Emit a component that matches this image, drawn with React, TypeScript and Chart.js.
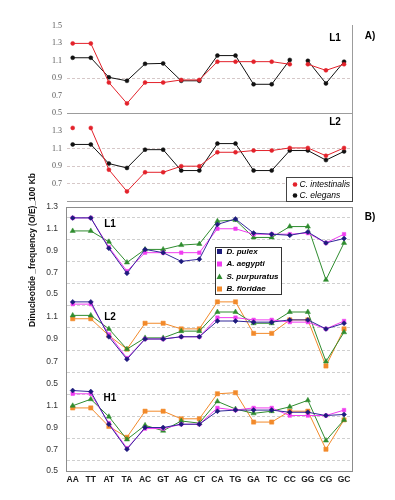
import React, { useEffect, useRef } from 'react';
import { Chart, registerables } from 'chart.js';

Chart.register(...registerables);

// ---------- DATA ----------
const categories = ['AA', 'TT', 'AT', 'TA', 'AC', 'GT', 'AG', 'CT', 'CA', 'TG', 'GA', 'TC', 'CC', 'GG', 'CG', 'GC'];

// Panel A – L1
const aL1Intestinalis = [1.30, 1.30, 0.85, 0.61, 0.85, 0.85, 0.88, 0.88, 1.09, 1.09, 1.09, 1.09, 1.06, 1.06, 0.99, 1.06];
const aL1Elegans = [1.135, 1.135, 0.91, 0.87, 1.065, 1.07, 0.87, 0.87, 1.16, 1.16, 0.83, 0.83, 1.11, 1.10, 0.84, 1.09];
// Panel A – L2
const aL2Intestinalis = [1.34, 1.34, 0.86, 0.61, 0.83, 0.83, 0.90, 0.90, 1.06, 1.06, 1.08, 1.08, 1.11, 1.11, 1.02, 1.11];
const aL2Elegans = [1.15, 1.15, 0.93, 0.88, 1.09, 1.09, 0.85, 0.85, 1.16, 1.16, 0.85, 0.85, 1.08, 1.08, 0.97, 1.07];

// Panel B – L1
const bL1Pulex = [1.20, 1.20, 0.92, 0.69, 0.91, 0.88, 0.80, 0.82, 1.14, 1.19, 1.06, 1.05, 1.04, 1.07, 0.97, 1.01];
const bL1Aegypti = [1.20, 1.20, 0.93, 0.71, 0.88, 0.88, 0.88, 0.88, 1.10, 1.10, 1.05, 1.05, 1.05, 1.06, 0.97, 1.05];
const bL1Purpuratus = [1.08, 1.08, 0.98, 0.79, 0.91, 0.91, 0.95, 0.96, 1.17, 1.18, 1.02, 1.02, 1.12, 1.12, 0.63, 0.97];
// Panel B – L2
const bL2Pulex = [1.23, 1.23, 0.92, 0.72, 0.90, 0.90, 0.92, 0.92, 1.06, 1.06, 1.05, 1.05, 1.07, 1.07, 0.99, 1.04];
const bL2Aegypti = [1.21, 1.21, 0.94, 0.73, 0.90, 0.90, 0.92, 0.92, 1.09, 1.09, 1.07, 1.07, 1.05, 1.05, 0.99, 1.06];
const bL2Purpuratus = [1.11, 1.11, 0.99, 0.81, 0.91, 0.91, 0.97, 0.97, 1.14, 1.14, 1.04, 1.04, 1.14, 1.14, 0.70, 0.96];
const bL2Floridae = [1.08, 1.08, 0.93, 0.81, 1.04, 1.04, 0.99, 0.99, 1.23, 1.23, 0.95, 0.95, 1.07, 1.07, 0.66, 0.99];
// Panel B – H1
const bH1Pulex = [1.24, 1.23, 0.93, 0.70, 0.90, 0.90, 0.93, 0.93, 1.05, 1.06, 1.06, 1.06, 1.04, 1.04, 1.01, 1.02];
const bH1Aegypti = [1.21, 1.21, 0.94, 0.71, 0.89, 0.89, 0.93, 0.93, 1.08, 1.06, 1.08, 1.08, 1.01, 1.01, 1.01, 1.06];
const bH1Purpuratus = [1.10, 1.16, 1.00, 0.79, 0.92, 0.87, 0.96, 0.94, 1.14, 1.07, 1.03, 1.05, 1.09, 1.15, 0.78, 0.97];
const bH1Floridae = [1.08, 1.08, 0.91, 0.81, 1.05, 1.05, 0.98, 0.98, 1.21, 1.22, 0.95, 0.95, 1.05, 1.05, 0.70, 0.97];

const yTitle = 'Dinucleotide _frequency (O/E)_100 Kb';

// ---------- STYLE / LAYOUT ----------
const W = 395;
const H = 500;
const PLOT_LEFT = 67;
const PLOT_RIGHT = 352;
const X_MIN = -0.315;
const X_MAX = 15.44;
const SANS = '"Liberation Sans", Arial, sans-serif';
const SERIF = '"Liberation Serif", "Times New Roman", serif';

const C = {
  red: '#e3222b',
  black: '#111111',
  navy: '#1d1b7c',
  navyLine: '#33289a',
  magenta: '#f03cf0',
  green: '#2f8c2f',
  orange: '#f28a2b',
};

type Series = { values: number[]; color: string; pointColor?: string; style: string; radius: number; gaps?: number[] };
type Panel = {
  top: number;
  bottom: number;
  min: number;
  max: number;
  series: Series[];
  gridAt: number[];
  hideLabels: number[];
  group: 'A' | 'B';
  showX: boolean;
};

const panels: Panel[] = [
  {
    top: 26, bottom: 113, min: 0.5, max: 1.5, group: 'A', showX: false, gridAt: [9], hideLabels: [],
    series: [
      { values: aL1Intestinalis, color: C.red, style: 'circle', radius: 2, gaps: [12] },
      { values: aL1Elegans, color: C.black, style: 'circle', radius: 2, gaps: [12] },
    ],
  },
  {
    top: 114, bottom: 201, min: 0.5, max: 1.5, group: 'A', showX: false, gridAt: [11, 9, 7], hideLabels: [15, 5],
    series: [
      { values: aL2Intestinalis, color: C.red, style: 'circle', radius: 2, gaps: [0] },
      { values: aL2Elegans, color: C.black, style: 'circle', radius: 2 },
    ],
  },
  {
    top: 207, bottom: 294, min: 0.5, max: 1.3, group: 'B', showX: false, gridAt: [12, 10, 8, 6], hideLabels: [],
    series: [
      { values: bL1Pulex, color: C.navyLine, pointColor: C.navy, style: 'rectRot', radius: 2.5 },
      { values: bL1Aegypti, color: C.magenta, style: 'rect', radius: 2.5 },
      { values: bL1Purpuratus, color: C.green, style: 'triangle', radius: 3 },
    ],
  },
  {
    top: 294, bottom: 384, min: 0.5, max: 1.3, group: 'B', showX: false, gridAt: [12, 10, 8, 6], hideLabels: [13],
    series: [
      { values: bL2Pulex, color: C.navyLine, pointColor: C.navy, style: 'rectRot', radius: 2.5 },
      { values: bL2Aegypti, color: C.magenta, style: 'rect', radius: 2.5 },
      { values: bL2Purpuratus, color: C.green, style: 'triangle', radius: 3 },
      { values: bL2Floridae, color: C.orange, style: 'rect', radius: 3 },
    ],
  },
  {
    top: 384, bottom: 471, min: 0.5, max: 1.3, group: 'B', showX: true, gridAt: [12, 10, 8, 6], hideLabels: [13],
    series: [
      { values: bH1Pulex, color: C.navyLine, pointColor: C.navy, style: 'rectRot', radius: 2.5 },
      { values: bH1Aegypti, color: C.magenta, style: 'rect', radius: 2.5 },
      { values: bH1Purpuratus, color: C.green, style: 'triangle', radius: 3 },
      { values: bH1Floridae, color: C.orange, style: 'rect', radius: 3 },
    ],
  },
];

const legendA = [
  { label: 'C. intestinalis', color: C.red },
  { label: 'C. elegans', color: C.black },
];
const legendB = [
  { label: 'D. pulex', color: C.navy, shape: 'rect' },
  { label: 'A. aegypti', color: C.magenta, shape: 'rect' },
  { label: 'S. purpuratus', color: C.green, shape: 'triangle' },
  { label: 'B. floridae', color: C.orange, shape: 'rect' },
];

const X_AXIS_H = 20;

function hline(c: CanvasRenderingContext2D, x1: number, x2: number, y: number) {
  c.beginPath();
  c.moveTo(x1, y);
  c.lineTo(x2, y);
  c.stroke();
}
function vline(c: CanvasRenderingContext2D, x: number, y1: number, y2: number) {
  c.beginPath();
  c.moveTo(x, y1);
  c.lineTo(x, y2);
  c.stroke();
}

const decorPlugin = {
  id: 'decor',
  afterDraw(chart: any) {
    const c: CanvasRenderingContext2D = chart.ctx;
    const L = chart.chartArea.left;
    const R = chart.chartArea.right;
    const [pA1, pA2, pB1, , pB3] = panels;
    c.save();
    c.lineWidth = 1;

    // Panel A frame
    c.strokeStyle = '#9c9c9c';
    vline(c, R + 0.5, pA1.top - 1, pA2.bottom + 0.5);
    hline(c, L, R + 0.5, pA1.bottom + 0.5);
    hline(c, L, R + 0.5, pA2.bottom + 0.5);

    // Panel B frame
    c.strokeStyle = '#8c8c8c';
    c.strokeRect(L - 0.5, pB1.top + 0.5, R - L + 1, pB3.bottom - pB1.top);

    // Panel labels
    c.fillStyle = '#000';
    c.textBaseline = 'middle';
    c.textAlign = 'center';
    c.font = `bold 10px ${SANS}`;
    c.fillText('L1', 335, pA1.top + 12);
    c.fillText('L2', 335, pA2.top + 8);
    c.fillText('A)', 370, pA1.top + 10);
    c.fillText('B)', 370, pB1.top + 10);
    c.fillText('L1', 110, panels[2].top + 17);
    c.fillText('L2', 110, panels[3].top + 23);
    c.fillText('H1', 110, panels[4].top + 14);

    // Legend A
    const lax = 286.5, lay = 177.5, law = R + 0.5 - lax, lah = pA2.bottom + 0.5 - 177.5;
    c.fillStyle = '#fff';
    c.fillRect(lax, lay, law, lah);
    c.strokeStyle = '#444';
    c.strokeRect(lax, lay, law, lah);
    c.font = `italic 8.5px ${SANS}`;
    c.textAlign = 'left';
    legendA.forEach((it, i) => {
      const y = lay + 7 + i * 11;
      c.fillStyle = it.color;
      c.beginPath();
      c.arc(lax + 8.5, y, 2.3, 0, Math.PI * 2);
      c.fill();
      c.fillStyle = '#000';
      c.fillText(it.label, lax + 13, y);
    });

    // Legend B
    const lbx = 215.5, lby = 247.5, lbw = 66, lbh = 47;
    c.fillStyle = '#fff';
    c.fillRect(lbx, lby, lbw, lbh);
    c.strokeStyle = '#333';
    c.strokeRect(lbx, lby, lbw, lbh);
    c.font = `bold italic 8px ${SANS}`;
    legendB.forEach((it, i) => {
      const y = lby + 4 + i * 12.5;
      const mx = lbx + 4;
      c.fillStyle = it.color;
      if (it.shape === 'triangle') {
        c.beginPath();
        c.moveTo(mx, y - 3);
        c.lineTo(mx + 3, y + 2.5);
        c.lineTo(mx - 3, y + 2.5);
        c.closePath();
        c.fill();
      } else {
        c.fillRect(mx - 2.5, y - 2.5, 5, 5);
      }
      c.fillStyle = '#000';
      c.fillText(it.label, lbx + 11, y);
    });

    // Y title
    c.save();
    c.translate(33, 250);
    c.rotate(-Math.PI / 2);
    c.textAlign = 'center';
    c.textBaseline = 'middle';
    c.font = `bold 8.5px ${SANS}`;
    c.fillStyle = '#111';
    c.fillText(yTitle, 0, 0);
    c.restore();

    c.restore();
  },
};

function buildConfig(p: Panel, withDecor: boolean): any {
  const isA = p.group === 'A';
  const tickVals: number[] = [];
  for (let k = Math.round(p.min * 10); k <= Math.round(p.max * 10); k++) tickVals.push(k / 10);
  return {
    type: 'line',
    data: {
      datasets: p.series.map((s) => ({
        data: s.values.map((v, i) => ({ x: i, y: v })),
        borderColor: s.color,
        backgroundColor: s.pointColor ?? s.color,
        pointBackgroundColor: s.pointColor ?? s.color,
        pointBorderColor: s.pointColor ?? s.color,
        pointBorderWidth: 0.5,
        pointStyle: s.style,
        pointRadius: s.radius,
        borderWidth: 1,
        tension: 0,
        fill: false,
        segment: s.gaps
          ? { borderColor: (ctx: any) => (s.gaps!.includes(ctx.p0DataIndex) ? 'rgba(0,0,0,0)' : undefined) }
          : undefined,
      })),
    },
    options: {
      responsive: false,
      animation: false,
      events: [],
      layout: {
        padding: {
          left: 0,
          right: W - PLOT_RIGHT,
          top: p.top,
          bottom: H - p.bottom - (p.showX ? X_AXIS_H : 0),
        },
      },
      plugins: { legend: { display: false }, tooltip: { enabled: false } },
      scales: {
        x: {
          type: 'linear',
          min: X_MIN,
          max: X_MAX,
          display: p.showX,
          afterBuildTicks: (s: any) => {
            s.ticks = categories.map((_, i) => ({ value: i }));
          },
          afterFit: (s: any) => {
            s.height = p.showX ? X_AXIS_H : 0;
          },
          grid: { display: false, drawTicks: false },
          border: { display: false },
          ticks: {
            callback: (v: any) => categories[Math.round(v)] ?? '',
            font: { family: SANS, size: 8.5, weight: 'bold' },
            color: '#1a1a1a',
            padding: 4,
            maxRotation: 0,
            autoSkip: false,
          },
        },
        y: {
          type: 'linear',
          min: p.min,
          max: p.max,
          afterBuildTicks: (s: any) => {
            s.ticks = tickVals.map((v) => ({ value: v }));
          },
          afterFit: (s: any) => {
            s.width = PLOT_LEFT;
          },
          ticks: {
            autoSkip: false,
            callback: (v: any) => {
              const k = Math.round(v * 10);
              if (k % 2 === 0 || p.hideLabels.includes(k)) return '';
              return (k / 10).toFixed(1);
            },
            font: isA ? { family: SERIF, size: 8 } : { family: SANS, size: 8.5 },
            color: isA ? '#555' : '#333',
            padding: isA ? 5 : 9,
          },
          grid: {
            drawTicks: false,
            lineWidth: 1,
            color: (ctx: any) => {
              const k = Math.round((ctx.tick?.value ?? 0) * 10);
              return p.gridAt.includes(k) ? (isA ? '#d6c8c8' : '#cfcfcf') : 'rgba(0,0,0,0)';
            },
          },
          border: { display: false, dash: [3, 2] },
        },
      },
    },
    plugins: withDecor ? [decorPlugin] : [],
  };
}

export default function App() {
  const refs = useRef<(HTMLCanvasElement | null)[]>([]);

  useEffect(() => {
    const charts = panels.map((p, i) => {
      const cv = refs.current[i]!;
      return new Chart(cv, buildConfig(p, i === panels.length - 1));
    });
    return () => charts.forEach((ch) => ch.destroy());
  }, []);

  return (
    <div style={{ position: 'absolute', left: 0, top: 0, width: W, height: H, background: '#fff' }}>
      {panels.map((_, i) => (
        <canvas
          key={i}
          ref={(el) => {
            refs.current[i] = el;
          }}
          width={W}
          height={H}
          style={{ position: 'absolute', left: 0, top: 0, width: W, height: H }}
        />
      ))}
    </div>
  );
}
